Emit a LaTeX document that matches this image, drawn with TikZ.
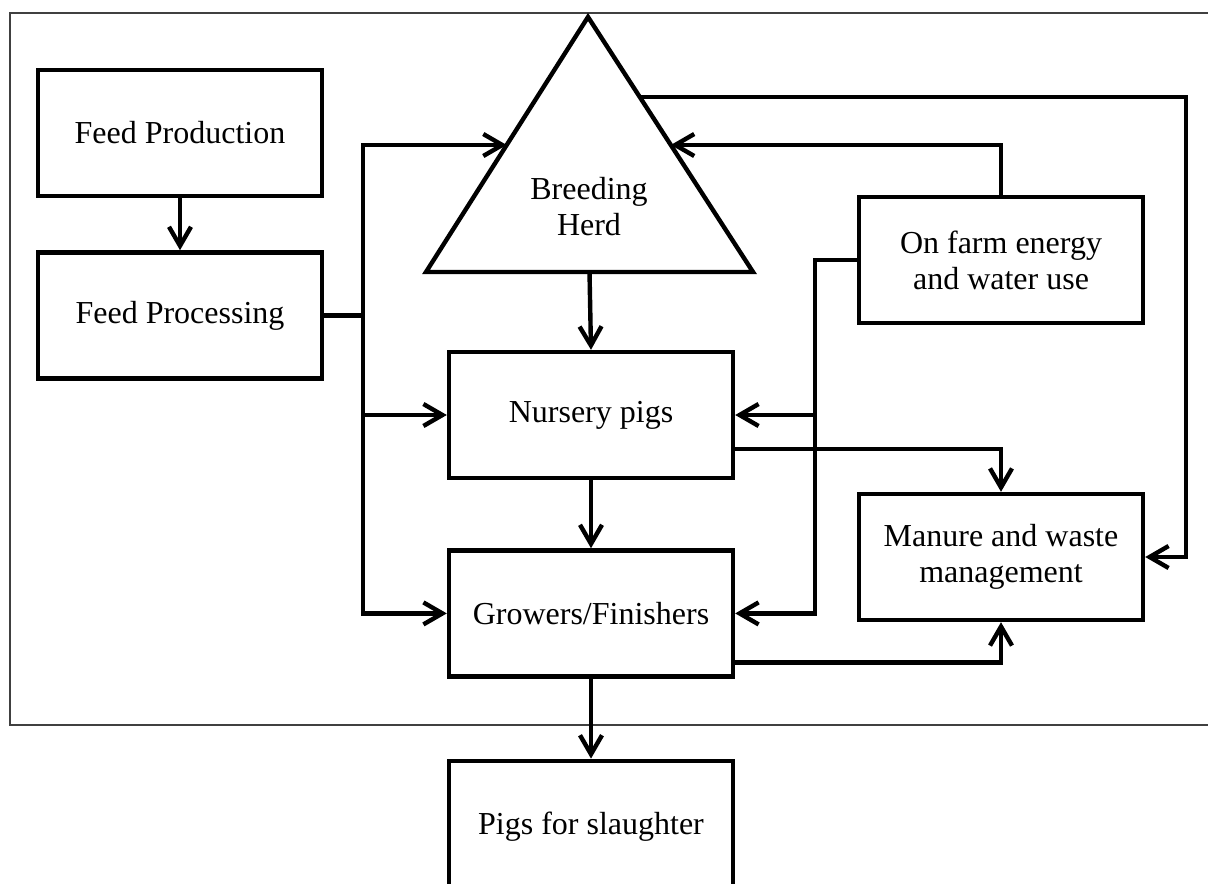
\documentclass[tikz,border=0pt]{standalone}
\usepackage{fontspec}
\setmainfont{Liberation Serif}
\usepackage{tikz}
\usetikzlibrary{positioning, calc, arrows.meta}

\begin{document}
\begin{tikzpicture}[x=0.5pt, y=-0.5pt, line width=2.2pt, >={Straight Barb[length=9.5pt, width=11pt]}, stage/.style={rectangle, draw=black, line width=2.2pt, minimum width=142pt, minimum height=63pt, align=center, font=\fontsize{16}{18}\selectfont}, herdtext/.style={align=center, font=\fontsize{16}{18}\selectfont}]

    \path[use as bounding box, clip] (0,0) rectangle (1208,883);
    \draw[black!75, line width=0.7pt] (1220,13) -- (10,13) -- (10,725) -- (1220,725);

    % Nodes
    \node[stage] (prod)     at (180,133)    {Feed Production};
    \node[stage] (proc)     [below=26pt of prod]    {Feed Processing};
    \node[stage] (nurs)     at (591,415)    {Nursery pigs};
    \node[stage] (grow)     [below=34pt of nurs]    {Growers/Finishers};
    \node[stage, minimum height=66pt] (pigs) [below=40pt of grow] {Pigs for slaughter};
    \node[stage] (energy)   at (1001,260)   {On farm energy\\and water use};
    \node[stage] (manure)   at (1001,557)   {Manure and waste\\management};

    % Breeding herd triangle
    \coordinate (apex) at (588,17);
    \coordinate (bl) at (426,272);
    \coordinate (br) at (753,272);
    \draw[line join=miter] (apex) -- (br) -- (bl) -- cycle;
    \node[herdtext] (herd) at (589,207) {Breeding\\Herd};
    \coordinate (hL) at ($(apex)!0.502!(bl)$);
    \coordinate (hR) at ($(apex)!0.502!(br)$);
    \coordinate (hT) at ($(apex)!0.314!(br)$);
    \coordinate (hB) at ($(bl)!0.5!(br)$);

    % Lines ---------------
    \draw[->] (prod.south) -- (proc.north);
    \draw[->] (proc.east) -- ++(39,0) |- (hL);
    \draw[->] (proc.east) -- ++(39,0) |- (nurs.west);
    \draw[->] (proc.east) -- ++(39,0) |- (grow.west);
    \draw[->] (hB) -- (nurs.north);
    \draw[->] (nurs.south) -- (grow.north);
    \draw[->] (grow.south) -- (pigs.north);

    % Energy and water
    \draw[->] (energy.north) |- (hR);
    \draw[->] (energy.west) -- ++(-42,0) |- (nurs.east);
    \draw[->] (energy.west) -- ++(-42,0) |- (grow.east);

    % Manure
    \draw[->] (hT) -- ++(546,0) |- (manure.east);
    \draw[->] ($(nurs.east)+(0,34)$) -| (manure.north);
    \draw[->] ($(grow.east)+(0,49)$) -| (manure.south);

\end{tikzpicture}
\end{document}
